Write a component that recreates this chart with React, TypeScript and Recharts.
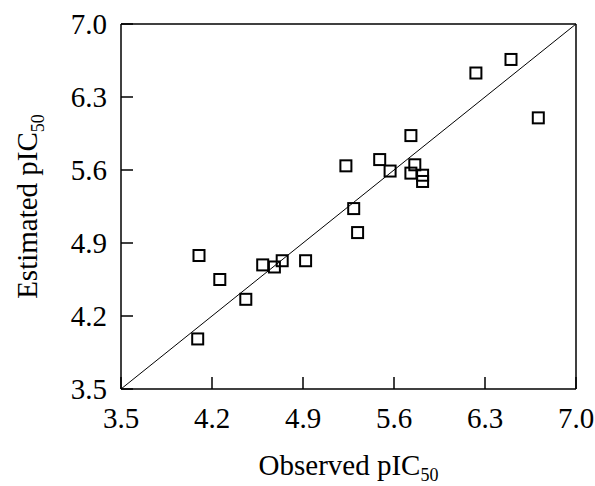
import {
  ScatterChart,
  Scatter,
  XAxis,
  YAxis,
  ReferenceLine,
  Label,
} from 'recharts';

const observed = [6.5, 6.23, 6.71, 5.73, 5.23, 5.49, 5.57, 5.76, 5.73, 5.82, 5.82, 5.29, 5.32, 4.1, 4.26, 4.46, 4.59, 4.68, 4.74, 4.92, 4.09];
const estimated = [6.66, 6.53, 6.1, 5.93, 5.64, 5.7, 5.59, 5.65, 5.57, 5.55, 5.49, 5.23, 5.0, 4.78, 4.55, 4.36, 4.69, 4.67, 4.73, 4.73, 3.98];
const axisTicks = [3.5, 4.2, 4.9, 5.6, 6.3, 7.0];
const domain: [number, number] = [3.5, 7.0];

const points = observed.map((x, i) => ({ x, y: estimated[i] }));

const FONT = '"Liberation Serif", "Times New Roman", serif';
const tickStyle = { fontSize: 29, fill: '#000', fontFamily: FONT };
const fmt = (v: number) => v.toFixed(1);

const Square = (props: any) => {
  const { cx, cy } = props;
  if (cx == null || cy == null) return null;
  return <rect x={cx - 5.5} y={cy - 5.5} width={11} height={11} fill="none" stroke="#000" strokeWidth={2} />;
};

const XTitle = ({ viewBox }: any) => {
  const cx = viewBox.x + viewBox.width / 2;
  const by = viewBox.y + 86;
  return (
    <text x={cx} y={by} textAnchor="middle" fontFamily={FONT} fontSize={29} fill="#000">
      Observed pIC
      <tspan fontSize={18} dy={6}>50</tspan>
    </text>
  );
};

const YTitle = ({ viewBox }: any) => {
  const cy = viewBox.y + viewBox.height / 2;
  const bx = 37;
  return (
    <text x={bx} y={cy} transform={`rotate(-90, ${bx}, ${cy})`} textAnchor="middle" fontFamily={FONT} fontSize={29} fill="#000">
      Estimated pIC
      <tspan fontSize={18} dy={7}>50</tspan>
    </text>
  );
};

export default function App() {
  return (
    <div style={{ position: 'absolute', left: 0, top: 0 }}>
      <ScatterChart width={595} height={486} margin={{ top: 0, right: 0, bottom: 0, left: 0 }}>
        <XAxis
          xAxisId="b"
          type="number"
          dataKey="x"
          domain={domain}
          ticks={axisTicks}
          tickFormatter={fmt}
          allowDataOverflow
          height={97}
          tickSize={-12}
          tickMargin={30}
          tick={tickStyle}
          axisLine={{ stroke: '#000', strokeWidth: 1.5 }}
          tickLine={{ stroke: '#000', strokeWidth: 1.5 }}
        >
          <Label content={XTitle} />
        </XAxis>
        <XAxis
          xAxisId="t"
          orientation="top"
          type="number"
          dataKey="x"
          domain={domain}
          ticks={axisTicks}
          allowDataOverflow
          height={24}
          tickSize={-12}
          tick={false}
          axisLine={{ stroke: '#000', strokeWidth: 1.5 }}
          tickLine={{ stroke: '#000', strokeWidth: 1.5 }}
        />
        <YAxis
          yAxisId="l"
          type="number"
          dataKey="y"
          domain={domain}
          ticks={axisTicks}
          tickFormatter={fmt}
          allowDataOverflow
          width={121}
          tickSize={-12}
          tickMargin={26}
          tick={tickStyle}
          axisLine={{ stroke: '#000', strokeWidth: 1.5 }}
          tickLine={{ stroke: '#000', strokeWidth: 1.5 }}
        >
          <Label content={YTitle} />
        </YAxis>
        <YAxis
          yAxisId="r"
          orientation="right"
          type="number"
          dataKey="y"
          domain={domain}
          ticks={axisTicks}
          allowDataOverflow
          width={19}
          tickSize={-12}
          tick={false}
          axisLine={{ stroke: '#000', strokeWidth: 1.5 }}
          tickLine={{ stroke: '#000', strokeWidth: 1.5 }}
        />
        <ReferenceLine
          xAxisId="b"
          yAxisId="l"
          segment={[{ x: 3.5, y: 3.5 }, { x: 7.0, y: 7.0 }]}
          stroke="#000"
          strokeWidth={1}
        />
        <Scatter
          xAxisId="b"
          yAxisId="l"
          data={points}
          shape={Square}
          isAnimationActive={false}
        />
      </ScatterChart>
    </div>
  );
}
